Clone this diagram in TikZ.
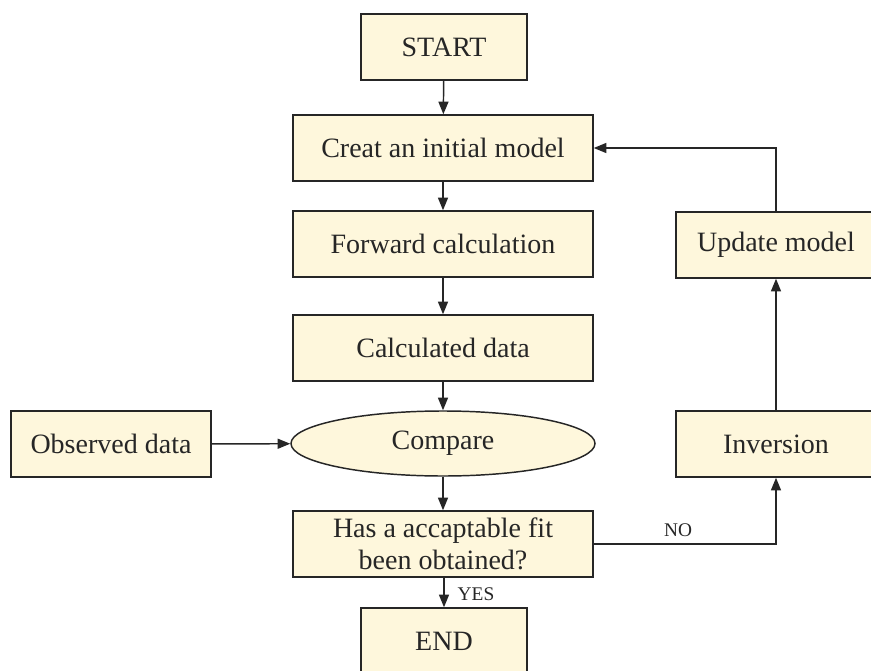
\documentclass[tikz,border=0pt]{standalone}
\usepackage{fontspec}
\setmainfont{Liberation Serif}
\usetikzlibrary{shapes.geometric,arrows.meta}
\definecolor{boxfill}{HTML}{FEF7DC}
\definecolor{ink}{HTML}{262626}
\tikzset{
  px/.style={x=0.75pt,y=-0.75pt},
  box/.style={draw=ink,fill=boxfill,line width=1.1pt,minimum width=225pt,minimum height=49.5pt,inner sep=0pt,
    font=\fontsize{21}{24.5}\selectfont,text=ink,align=center},
  smallbox/.style={box,minimum width=124.5pt},
  sidebox/.style={box,minimum width=150pt},
  oval/.style={ellipse,draw=ink,fill=boxfill,line width=1.1pt,minimum width=228pt,minimum height=48.75pt,inner sep=0pt,
    font=\fontsize{21}{24.5}\selectfont,text=ink},
  conn/.style={draw=ink,line width=1.1pt,-{Triangle[length=9.5pt,width=7.5pt]}},
  lbl/.style={font=\fontsize{14.5}{17}\selectfont,text=ink,inner sep=0pt}
}
\begin{document}
\begin{tikzpicture}[px]
\useasboundingbox (0,0) rectangle (871,671);
\clip (0,0) rectangle (871,671);
\fill[white] (0,0) rectangle (871,671);
\node[smallbox] (start) at (444,47) {START};
\node[box] (init) at (443,148) {Creat an initial model};
\node[box] (fwd) at (443,244) {Forward calculation};
\node[box] (calc) at (443,348) {Calculated data};
\node[oval] (cmp) at (443,443.5) {Compare};
\node[box,minimum width=150pt] (obs) at (111,444) {Observed data};
\node[box] (fit) at (443,544) {Has a accaptable fit\\been obtained?};
\node[smallbox] (end) at (444,641) {END};
\node[sidebox] (upd) at (776,245) {Update model};
\node[sidebox] (inv) at (776,444) {Inversion};
\coordinate (c1) at (776,148);
\coordinate (c2) at (776,544);
\draw[conn] (start) -- (init);
\draw[conn] (init) -- (fwd);
\draw[conn] (fwd) -- (calc);
\draw[conn] (calc) -- (cmp);
\draw[conn] (obs) -- (cmp);
\draw[conn] (cmp) -- (fit);
\draw[conn] (fit.south -| end) -- (end);
\draw[conn] (fit.east) -- (c2) -- (inv.south);
\draw[conn] (inv) -- (upd);
\draw[conn] (upd.north) -- (c1) -- (init.east);
\node[lbl] (no) at (678,530) {NO};
\node[lbl] (yes) at (476,594) {YES};
\end{tikzpicture}
\end{document}
